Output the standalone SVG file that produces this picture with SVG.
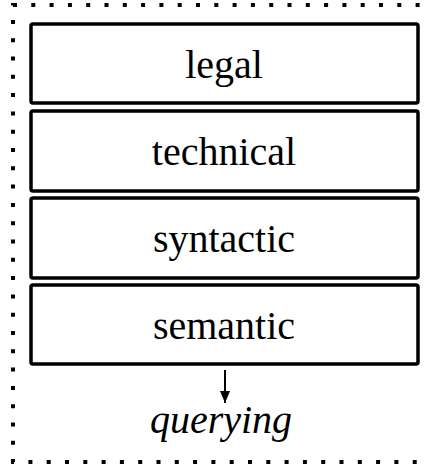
<svg xmlns="http://www.w3.org/2000/svg" width="427" height="465" viewBox="0 0 427 465">
  <style>
    .layer rect { fill: #fff; stroke: #000; stroke-width: 3.5; }
    .label { font-family: "Liberation Serif", "Times New Roman", serif; font-size: 40px; fill: #000; text-anchor: middle; }
    .frame { fill: none; stroke: #000; stroke-width: 4; stroke-dasharray: 4 14.3; }
  </style>
  <defs>
    <!-- arrowhead drawn along +x so orient="auto" turns it with the line -->
    <marker id="arrowhead" markerWidth="12" markerHeight="10" refX="12" refY="5" orient="auto" markerUnits="userSpaceOnUse" viewBox="0 0 12 10">
      <path d="M0,0 L12,5 L0,10 Z" fill="#000"/>
    </marker>
  </defs>

  <!-- dotted enclosure -->
  <rect class="frame" x="13" y="5" width="440" height="457"/>

  <g id="legal" class="layer">
    <rect x="31" y="24" width="387" height="79" rx="2"/>
    <text class="label" x="224" y="78">legal</text>
  </g>
  <g id="technical" class="layer">
    <rect x="31" y="111" width="387" height="80" rx="2"/>
    <text class="label" x="224" y="165">technical</text>
  </g>
  <g id="syntactic" class="layer">
    <rect x="31" y="198" width="387" height="80" rx="2"/>
    <text class="label" x="224" y="252">syntactic</text>
  </g>
  <g id="semantic" class="layer">
    <rect x="31" y="285" width="387" height="79" rx="2"/>
    <text class="label" x="224" y="339">semantic</text>
  </g>

  <g id="connectors">
    <line x1="225" y1="370" x2="225" y2="403" stroke="#000" stroke-width="2" marker-end="url(#arrowhead)"/>
  </g>

  <g id="querying">
    <text class="label" x="221" y="433" font-style="italic">querying</text>
  </g>
</svg>
